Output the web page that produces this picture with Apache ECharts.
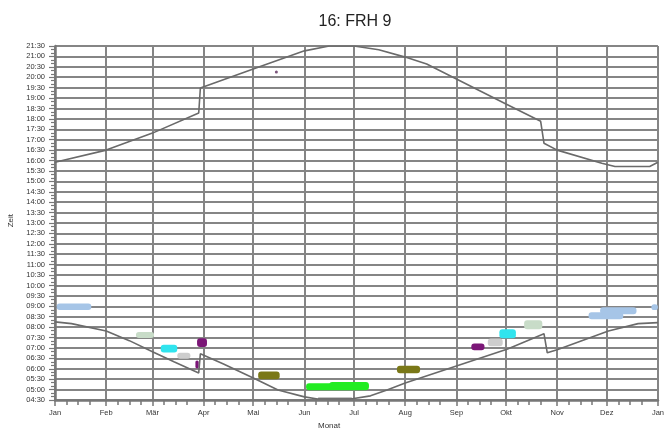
<!DOCTYPE html>
<html>
<head>
<meta charset="utf-8">
<script src="https://cdn.jsdelivr.net/npm/echarts/dist/echarts.min.js"></script>
<style>
  html, body { margin: 0; padding: 0; background: #fff; }
  #chart { width: 667px; height: 432px; }
</style>
</head>
<body>
<div id="chart"></div>
<script>
// Month labels and the day of year each month starts on
const monthNames = ['Jan', 'Feb', 'Mär', 'Apr', 'Mai', 'Jun', 'Jul', 'Aug', 'Sep', 'Okt', 'Nov', 'Dez', 'Jan'];
const monthStarts = [0, 31, 59, 90, 120, 151, 181, 212, 243, 273, 304, 334, 365];

// Sunset curve: day of year and local clock time
const sunsetDays  = [0, 31, 59, 87, 88, 120, 151, 166, 181, 196, 212, 225, 243, 273, 294, 296, 304, 331, 339, 360, 365];
const sunsetTimes = ['15:55', '16:30', '17:19', '18:17', '19:29', '20:24', '21:16', '21:30', '21:30', '21:19', '20:58', '20:38', '19:55', '18:43', '17:53', '16:50', '16:30', '15:52', '15:43', '15:43', '15:55'];

// Sunrise curve: day of year and local clock time
const sunriseDays  = [0, 10, 31, 45, 59, 72, 87, 88, 102, 121, 135, 151, 159, 179, 191, 201, 212, 243, 274, 296, 298, 304, 335, 353, 365];
const sunriseTimes = ['08:15', '08:10', '07:49', '07:21', '06:49', '06:20', '05:48', '06:43', '06:14', '05:31', '04:59', '04:39', '04:33', '04:33', '04:42', '04:59', '05:19', '06:08', '06:57', '07:41', '06:46', '06:55', '07:49', '08:10', '08:13'];

// Observation periods: first day, last day, earliest and latest time, group
const obsStart = [1, 49, 64, 74, 85, 86, 123, 152, 166, 159, 207, 252, 262, 269, 284, 323, 330, 361];
const obsEnd   = [22, 60, 74, 82, 87, 92, 136, 190, 190, 180, 221, 260, 271, 279, 295, 344, 352, 365];
const obsFrom  = ['08:49', '07:29', '06:47', '06:29', '06:01', '07:03', '05:30', '04:58', '05:04', '04:30', '05:47', '06:53', '07:05', '07:28', '07:54', '08:23', '08:37', '08:49'];
const obsTo    = ['09:08', '07:46', '07:09', '06:46', '06:24', '07:28', '05:52', '05:18', '05:22', '04:37', '06:09', '07:13', '07:27', '07:54', '08:20', '08:43', '08:57', '09:06'];
const obsGroup = ['A', 'B', 'C', 'D', 'E', 'E', 'F', 'G', 'G', 'H', 'F', 'E', 'D', 'C', 'B', 'A', 'A', 'A'];

// Single sighting
const singleDay = [134];
const singleTime = ['20:15'];

// Group colours
const groupColors = {
  A: '#a6c5e7', B: '#c8dcc8', C: '#30e4ee', D: '#cdcdcd',
  E: '#7b1677', F: '#7a7818', G: '#22ec22', H: '#8a8a8a'
};

const toHours = s => { const [h, m] = s.split(':').map(Number); return h + m / 60; };
const fmtHM = v => {
  const tot = Math.round(v * 60);
  const h = Math.floor(tot / 60), m = tot % 60;
  return String(h).padStart(2, '0') + ':' + String(m).padStart(2, '0');
};

const sunset = sunsetDays.map((d, i) => [d, toHours(sunsetTimes[i])]);
const sunrise = sunriseDays.map((d, i) => [d, toHours(sunriseTimes[i])]);
const obs = obsStart.map((s, i) => ({
  value: [s, obsEnd[i], toHours(obsFrom[i]), toHours(obsTo[i])],
  itemStyle: { color: groupColors[obsGroup[i]] }
}));
const singles = singleDay.map((d, i) => [d, toHours(singleTime[i])]);

// Weekly tick marks inside each month (8th, 15th, 22nd)
const weekTicks = [];
monthStarts.slice(0, 12).forEach(s => { weekTicks.push(s + 7, s + 14, s + 21); });

const gridColor = '#858585';
const axisColor = '#777';
const font = 'Liberation Sans, Arial, sans-serif';

const chart = echarts.init(document.getElementById('chart'), null, { renderer: 'canvas' });
chart.setOption({
  backgroundColor: '#fff',
  animation: false,
  title: {
    text: '16: FRH 9',
    left: 350, top: 9, textAlign: 'center',
    textStyle: { fontFamily: font, fontSize: 16, fontWeight: 'normal', color: '#222' }
  },
  grid: { left: 55, right: 3, top: 46, bottom: 32, containLabel: false },
  xAxis: [{
    type: 'value', min: 0, max: 365, position: 'bottom',
    axisLine: { show: true, lineStyle: { color: axisColor, width: 2.5 } },
    axisTick: { show: true, customValues: monthStarts, length: 6, lineStyle: { color: axisColor, width: 1.5 } },
    axisLabel: {
      customValues: monthStarts,
      formatter: v => monthNames[monthStarts.indexOf(Math.round(v))] || '',
      fontFamily: font, fontSize: 7.5, color: '#333', margin: 9
    },
    splitLine: { show: true, lineStyle: { color: gridColor, width: 2 } }
  }, {
    type: 'value', min: 0, max: 365, position: 'bottom',
    axisLine: { show: false },
    axisTick: { show: true, customValues: weekTicks, length: 5, lineStyle: { color: axisColor, width: 1.5 } },
    axisLabel: { show: false },
    splitLine: { show: false }
  }],
  yAxis: {
    type: 'value', min: 4.5, max: 21.5, interval: 0.5,
    axisLine: { show: true, lineStyle: { color: axisColor, width: 2.5 } },
    axisTick: { show: true, length: 6, lineStyle: { color: axisColor, width: 1.2 } },
    minorTick: { show: true, splitNumber: 3, length: 4, lineStyle: { color: axisColor, width: 1.2 } },
    axisLabel: { formatter: fmtHM, fontFamily: font, fontSize: 7.5, color: '#333', margin: 10 },
    splitLine: { show: true, lineStyle: { color: gridColor, width: 2 } }
  },
  graphic: [
    { type: 'text', left: 7, top: 214, rotation: Math.PI / 2,
      style: { text: 'Zeit', font: '8px ' + font, fill: '#333' } },
    { type: 'text', left: 318, top: 422,
      style: { text: 'Monat', font: '8px ' + font, fill: '#333' } }
  ],
  series: [{
    type: 'custom', name: 'obs', xAxisIndex: 0,
    encode: { x: [0, 1], y: [2, 3] },
    data: obs,
    renderItem: (params, api) => {
      const p0 = api.coord([api.value(0), api.value(3)]);
      const p1 = api.coord([api.value(1), api.value(2)]);
      return {
        type: 'rect',
        shape: { x: p0[0], y: p0[1], width: p1[0] - p0[0], height: p1[1] - p0[1], r: 3 },
        style: { fill: api.visual('color') }
      };
    }
  }, {
    type: 'line', name: 'sunrise', data: sunrise, showSymbol: false,
    lineStyle: { color: '#6a6a6a', width: 1.6 }, z: 3
  }, {
    type: 'line', name: 'sunset', data: sunset, showSymbol: false,
    lineStyle: { color: '#6a6a6a', width: 1.6 }, z: 3
  }, {
    type: 'scatter', name: 'single', data: singles, symbolSize: 3,
    itemStyle: { color: '#5a2a5a' }
  }]
});
</script>
</body>
</html>
